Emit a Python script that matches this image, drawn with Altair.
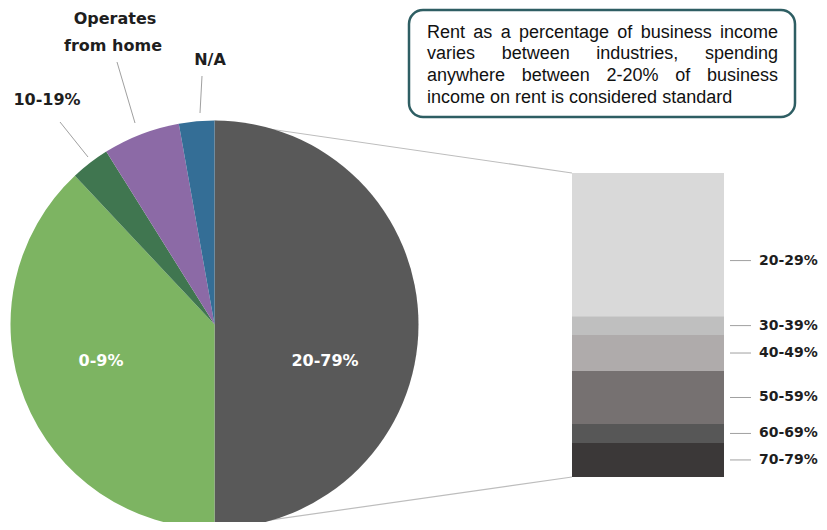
import math
import altair as alt
import pandas as pd

# ---------------- data ----------------
pie_cats = ["20-79%", "0-9%", "10-19%", "Operates from home", "N/A"]
pie_vals = [50, 38, 3.1, 6.1, 2.8]
pie_colors = ["#595959", "#7db462", "#407650", "#8c6aa6", "#346e96"]

bar_cats = ["20-29%", "30-39%", "40-49%", "50-59%", "60-69%", "70-79%"]
bar_vals = [23.5, 3.1, 5.9, 8.7, 3.1, 5.6]
bar_colors = ["#d9d9d9", "#bfbfbf", "#afabab", "#767171", "#575757", "#3b3838"]

note_lines = [
    "Rent as a percentage of business income",
    "varies between industries, spending",
    "anywhere between 2-20% of business",
    "income on rent is considered standard",
]

# ---------------- layout (page pixels -> chart pixels) ----------------
M = 8
def P(v):
    return v - M

CX, CY, R = P(214.5), P(324.5), 204
BX0, BX1 = P(572), P(724)
BTOP, BBOT = P(173), P(477)

LABEL_FONT = "DejaVu Sans"
NOTE_FONT = "Liberation Sans"

one = pd.DataFrame({"k": [0]})

layers = []

# connector lines (pie split -> bar corners)
for (x1, y1, x2, y2) in [(214.5, 121, 572, 173), (214.5, 528, 572, 477)]:
    layers.append(
        alt.Chart(one).mark_rule(color="#bdbdbd", strokeWidth=1.2).encode(
            x=alt.value(P(x1)), y=alt.value(P(y1)), x2=alt.value(P(x2)), y2=alt.value(P(y2))
        )
    )

# pie
pie_df = pd.DataFrame({"cat": pie_cats, "value": pie_vals, "idx": list(range(len(pie_cats)))})
pie = alt.Chart(pie_df).mark_arc(radius=R).encode(
    theta=alt.Theta("value:Q", stack=True),
    color=alt.Color("cat:N", scale=alt.Scale(domain=pie_cats, range=pie_colors), legend=None),
    order=alt.Order("idx:Q"),
    x=alt.value(CX),
    y=alt.value(CY),
)
layers.append(pie)

# pie label leader lines
for (x1, y1, x2, y2) in [(60, 122, 88, 157), (117, 62, 135, 123), (202, 76, 200, 113)]:
    layers.append(
        alt.Chart(one).mark_rule(color="#a0a0a0", strokeWidth=1).encode(
            x=alt.value(P(x1)), y=alt.value(P(y1)), x2=alt.value(P(x2)), y2=alt.value(P(y2))
        )
    )

def label(txt, x, y, size=16, color="#1e1e1e", align="center", font=LABEL_FONT,
          weight="bold", baseline="middle"):
    return alt.Chart(one).mark_text(
        text=txt, font=font, fontSize=size, fontWeight=weight, color=color,
        align=align, baseline=baseline,
    ).encode(x=alt.value(P(x)), y=alt.value(P(y)))

layers += [
    label("20-79%", 325, 361, color="white"),
    label("0-9%", 101, 361, color="white"),
    label("10-19%", 47, 100),
    label("Operates", 115, 19),
    label("from home", 113, 46),
    label("N/A", 210, 60),
]

# bar (pie-of-bar)
bar_df = pd.DataFrame({"cat": bar_cats, "value": bar_vals, "idx": list(range(len(bar_cats)))})
yscale = alt.Scale(domain=[0, sum(bar_vals)], range=[BBOT, BTOP])
stacked = alt.Chart(bar_df).transform_stack(
    stack="value", groupby=[], as_=["y0", "y1"],
    sort=[alt.SortField("idx", order="descending")],
).transform_calculate(mid="(datum.y0 + datum.y1) / 2")

bar = stacked.mark_bar().encode(
    x=alt.value(BX0), x2=alt.value(BX1),
    y=alt.Y("y0:Q", scale=yscale, axis=None), y2="y1:Q",
    color=alt.Color("cat:N", scale=alt.Scale(domain=bar_cats, range=bar_colors), legend=None),
)
layers.append(bar)

for cond, dy in [("datum.idx == 0", 16), ("datum.idx > 0", 0)]:
    sub = stacked.transform_filter(cond)
    layers.append(
        sub.mark_rule(color="#a0a0a0", strokeWidth=1, yOffset=dy).encode(
            x=alt.value(P(730)), x2=alt.value(P(751)),
            y=alt.Y("mid:Q", scale=yscale, axis=None),
        )
    )
    layers.append(
        sub.mark_text(font=LABEL_FONT, fontSize=14, fontWeight="bold", color="#1e1e1e",
                      align="left", baseline="middle", dy=dy).encode(
            x=alt.value(P(759)),
            y=alt.Y("mid:Q", scale=yscale, axis=None),
            text="cat:N",
        )
    )

# annotation box
layers.append(
    alt.Chart(one).mark_rect(fill="white", stroke="#2e5e63", strokeWidth=2.5, cornerRadius=14).encode(
        x=alt.value(P(409)), x2=alt.value(P(795)), y=alt.value(P(10)), y2=alt.value(P(117))
    )
)

# justified note text (Arial/Liberation metrics, units per 1000 em)
AW = {'a': 556, 'b': 556, 'c': 500, 'd': 556, 'e': 556, 'f': 278, 'g': 556, 'h': 556,
      'i': 222, 'j': 222, 'k': 500, 'l': 222, 'm': 833, 'n': 556, 'o': 556, 'p': 556,
      'q': 556, 'r': 333, 's': 500, 't': 278, 'u': 556, 'v': 500, 'w': 722, 'x': 500,
      'y': 500, 'z': 500, 'R': 722, '-': 333, '%': 889, ',': 278, ' ': 278}
for d in "0123456789":
    AW[d] = 556

NOTE_SIZE = 18
NL, NR = 427, 778
baselines = [37.5, 59.3, 81, 102.5]

def wwidth(w):
    return sum(AW.get(c, 556) for c in w) * NOTE_SIZE / 1000.0

for i, line in enumerate(note_lines):
    yb = baselines[i]
    if i == len(note_lines) - 1:
        layers.append(label(line, NL, yb, size=NOTE_SIZE, color="#111111", align="left",
                            font=NOTE_FONT, weight="normal", baseline="alphabetic"))
        continue
    words = line.split(" ")
    widths = [wwidth(w) for w in words]
    gap = (NR - NL - sum(widths)) / (len(words) - 1)
    xpos = NL
    for w, wd in zip(words, widths):
        layers.append(label(w, xpos, yb, size=NOTE_SIZE, color="#111111", align="left",
                            font=NOTE_FONT, weight="normal", baseline="alphabetic"))
        xpos += wd + gap

chart = alt.layer(*layers).resolve_scale(color="independent").properties(
    width=811, height=514, padding=0,
    autosize=alt.AutoSizeParams(type="none"),
).configure_view(stroke=None)

chart.save("out.html", embed_options={"renderer": "svg", "actions": False})
